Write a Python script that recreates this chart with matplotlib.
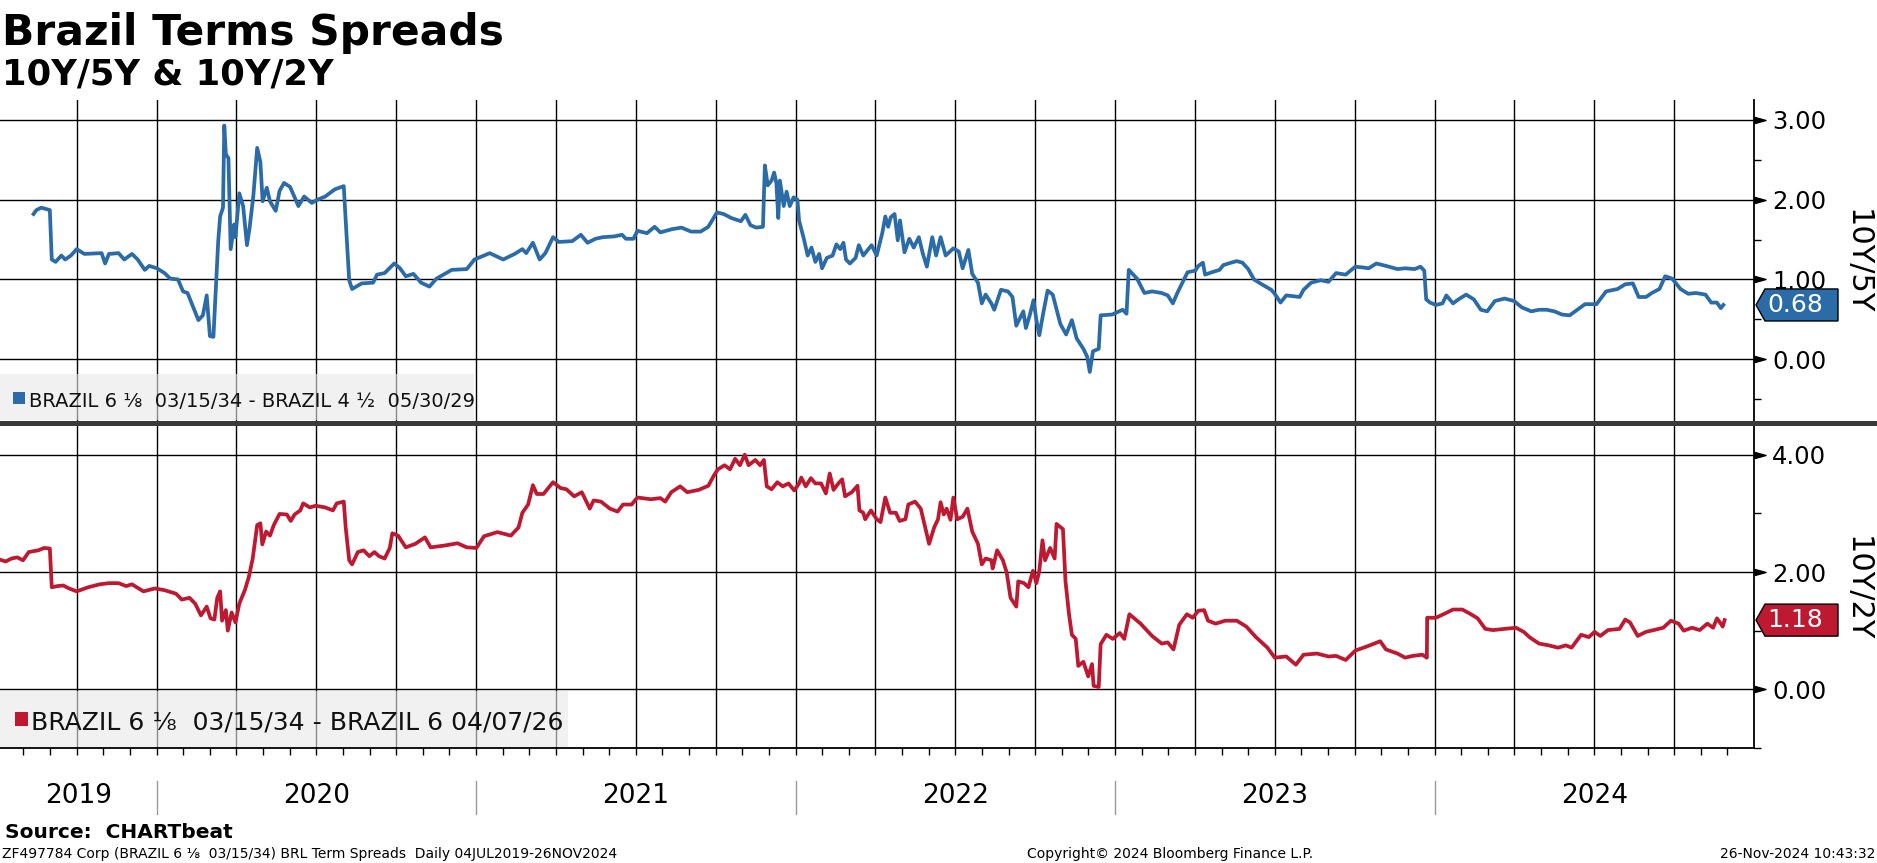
import matplotlib
matplotlib.use("Agg")
import matplotlib.pyplot as plt
import matplotlib.transforms as mtransforms
from matplotlib.patches import Polygon, Rectangle
from matplotlib.lines import Line2D

plt.rcParams['font.family'] = ['DejaVu Sans']

W, H = 1877, 863
BLUE = '#2b6ca8'
RED = '#bf1831'

# 10Y/5Y spread (decimal year, value)
blue_t = [2019.615, 2019.624, 2019.639, 2019.666, 2019.672, 2019.684, 2019.702, 2019.714, 2019.732, 2019.750,
          2019.774, 2019.828, 2019.839, 2019.851, 2019.881, 2019.899, 2019.923, 2019.941, 2019.963, 2019.977,
          2020.001, 2020.025, 2020.043, 2020.067, 2020.083, 2020.097, 2020.115, 2020.131, 2020.145, 2020.157,
          2020.167, 2020.178, 2020.183, 2020.193, 2020.199, 2020.208, 2020.212, 2020.217, 2020.225, 2020.232,
          2020.243, 2020.247, 2020.259, 2020.271, 2020.283, 2020.291, 2020.303, 2020.315, 2020.325, 2020.332,
          2020.345, 2020.355, 2020.373, 2020.385, 2020.399, 2020.418, 2020.430, 2020.444, 2020.462, 2020.486,
          2020.504, 2020.528, 2020.558, 2020.586, 2020.592, 2020.603, 2020.612, 2020.642, 2020.678, 2020.690,
          2020.714, 2020.744, 2020.762, 2020.780, 2020.804, 2020.828, 2020.854, 2020.876, 2020.924, 2020.971,
          2020.995, 2021.043, 2021.085, 2021.121, 2021.145, 2021.157, 2021.178, 2021.199, 2021.217, 2021.241,
          2021.259, 2021.301, 2021.328, 2021.349, 2021.374, 2021.397, 2021.433, 2021.457, 2021.469, 2021.493,
          2021.505, 2021.535, 2021.559, 2021.577, 2021.613, 2021.643, 2021.673, 2021.703, 2021.727, 2021.739,
          2021.754, 2021.775, 2021.799, 2021.829, 2021.843, 2021.859, 2021.877, 2021.898, 2021.904, 2021.913,
          2021.925, 2021.933, 2021.940, 2021.946, 2021.951, 2021.963, 2021.972, 2021.982, 2021.994, 2022.006,
          2022.011, 2022.026, 2022.038, 2022.050, 2022.062, 2022.074, 2022.083, 2022.098, 2022.116, 2022.128,
          2022.140, 2022.150, 2022.158, 2022.170, 2022.188, 2022.198, 2022.212, 2022.238, 2022.254, 2022.272,
          2022.281, 2022.290, 2022.298, 2022.310, 2022.320, 2022.327, 2022.341, 2022.356, 2022.370, 2022.386,
          2022.398, 2022.411, 2022.428, 2022.440, 2022.454, 2022.470, 2022.494, 2022.511, 2022.523, 2022.541,
          2022.553, 2022.571, 2022.583, 2022.595, 2022.613, 2022.622, 2022.643, 2022.665, 2022.679, 2022.691,
          2022.703, 2022.713, 2022.721, 2022.733, 2022.745, 2022.754, 2022.763, 2022.775, 2022.789, 2022.805,
          2022.829, 2022.847, 2022.865, 2022.880, 2022.901, 2022.913, 2022.921, 2022.931, 2022.949, 2022.955,
          2022.991, 2023.024, 2023.036, 2023.043, 2023.069, 2023.092, 2023.116, 2023.146, 2023.165, 2023.181,
          2023.195, 2023.211, 2023.227, 2023.251, 2023.261, 2023.275, 2023.282, 2023.303, 2023.327, 2023.339,
          2023.363, 2023.381, 2023.399, 2023.417, 2023.435, 2023.459, 2023.489, 2023.500, 2023.518, 2023.536,
          2023.578, 2023.590, 2023.614, 2023.644, 2023.668, 2023.692, 2023.722, 2023.752, 2023.776, 2023.794,
          2023.818, 2023.848, 2023.884, 2023.908, 2023.938, 2023.956, 2023.968, 2023.974, 2023.986, 2024.004,
          2024.025, 2024.037, 2024.058, 2024.075, 2024.099, 2024.123, 2024.145, 2024.165, 2024.189, 2024.219,
          2024.249, 2024.273, 2024.303, 2024.327, 2024.351, 2024.375, 2024.399, 2024.423, 2024.447, 2024.471,
          2024.495, 2024.507, 2024.537, 2024.573, 2024.597, 2024.621, 2024.639, 2024.662, 2024.680, 2024.704,
          2024.722, 2024.744, 2024.770, 2024.794, 2024.818, 2024.848, 2024.866, 2024.884, 2024.896, 2024.904]
blue_v = [1.82, 1.87, 1.90, 1.87, 1.25, 1.22, 1.30, 1.25, 1.30, 1.38,
          1.32, 1.33, 1.20, 1.32, 1.33, 1.25, 1.32, 1.25, 1.12, 1.17,
          1.14, 1.08, 1.01, 1.00, 0.85, 0.83, 0.65, 0.49, 0.55, 0.80,
          0.29, 0.28, 0.68, 1.48, 1.79, 1.90, 2.93, 2.57, 2.52, 1.38,
          1.69, 1.53, 2.08, 1.92, 1.43, 1.64, 2.05, 2.65, 2.47, 1.98,
          2.15, 1.98, 1.86, 2.11, 2.21, 2.16, 2.05, 1.92, 2.04, 1.96,
          2.00, 2.04, 2.13, 2.17, 1.74, 0.99, 0.88, 0.95, 0.96, 1.06,
          1.08, 1.20, 1.14, 1.04, 1.07, 0.96, 0.91, 1.01, 1.12, 1.13,
          1.25, 1.33, 1.25, 1.32, 1.38, 1.33, 1.46, 1.25, 1.33, 1.53,
          1.47, 1.48, 1.56, 1.46, 1.51, 1.53, 1.54, 1.56, 1.51, 1.51,
          1.61, 1.58, 1.66, 1.59, 1.63, 1.65, 1.60, 1.60, 1.66, 1.74,
          1.84, 1.82, 1.77, 1.73, 1.81, 1.68, 1.65, 1.66, 2.43, 2.18,
          2.24, 2.34, 2.21, 1.77, 2.24, 1.92, 2.10, 1.92, 2.03, 2.00,
          1.74, 1.51, 1.30, 1.40, 1.22, 1.32, 1.14, 1.27, 1.30, 1.44,
          1.38, 1.46, 1.25, 1.20, 1.27, 1.43, 1.30, 1.43, 1.30, 1.59,
          1.79, 1.66, 1.78, 1.82, 1.49, 1.74, 1.34, 1.51, 1.40, 1.53,
          1.33, 1.16, 1.53, 1.30, 1.53, 1.30, 1.39, 1.35, 1.14, 1.37,
          1.07, 0.96, 0.70, 0.81, 0.70, 0.62, 0.87, 0.85, 0.78, 0.42,
          0.52, 0.60, 0.39, 0.55, 0.74, 0.49, 0.30, 0.57, 0.86, 0.81,
          0.44, 0.31, 0.49, 0.26, 0.13, 0.03, -0.16, 0.10, 0.13, 0.55,
          0.56, 0.62, 0.57, 1.12, 1.01, 0.83, 0.85, 0.83, 0.80, 0.70,
          0.83, 0.96, 1.09, 1.11, 1.17, 1.21, 1.06, 1.09, 1.12, 1.18,
          1.21, 1.23, 1.21, 1.13, 1.00, 0.94, 0.87, 0.82, 0.71, 0.80,
          0.78, 0.87, 0.96, 0.99, 0.97, 1.08, 1.06, 1.16, 1.15, 1.14,
          1.20, 1.17, 1.13, 1.14, 1.13, 1.16, 1.11, 0.75, 0.71, 0.68,
          0.70, 0.80, 0.70, 0.75, 0.81, 0.75, 0.62, 0.60, 0.73, 0.76,
          0.73, 0.65, 0.60, 0.62, 0.62, 0.60, 0.56, 0.55, 0.62, 0.69,
          0.69, 0.69, 0.85, 0.88, 0.94, 0.95, 0.78, 0.78, 0.83, 0.88,
          1.04, 1.01, 0.88, 0.82, 0.83, 0.81, 0.71, 0.71, 0.64, 0.68]

# 10Y/2Y spread (decimal year, value)
red_t = [2019.510, 2019.528, 2019.546, 2019.564, 2019.582, 2019.600, 2019.630, 2019.648, 2019.666, 2019.672,
         2019.690, 2019.708, 2019.726, 2019.750, 2019.786, 2019.822, 2019.851, 2019.881, 2019.905, 2019.923,
         2019.959, 2019.995, 2020.025, 2020.061, 2020.079, 2020.103, 2020.121, 2020.139, 2020.157, 2020.169,
         2020.181, 2020.190, 2020.199, 2020.205, 2020.217, 2020.223, 2020.235, 2020.247, 2020.259, 2020.277,
         2020.289, 2020.301, 2020.315, 2020.325, 2020.331, 2020.343, 2020.355, 2020.367, 2020.385, 2020.408,
         2020.420, 2020.432, 2020.450, 2020.459, 2020.480, 2020.498, 2020.528, 2020.552, 2020.564, 2020.586,
         2020.592, 2020.603, 2020.612, 2020.630, 2020.648, 2020.666, 2020.682, 2020.696, 2020.714, 2020.730,
         2020.738, 2020.756, 2020.780, 2020.810, 2020.840, 2020.858, 2020.900, 2020.942, 2020.971, 2021.001,
         2021.025, 2021.067, 2021.109, 2021.133, 2021.145, 2021.163, 2021.178, 2021.190, 2021.211, 2021.241,
         2021.265, 2021.283, 2021.307, 2021.331, 2021.356, 2021.368, 2021.391, 2021.419, 2021.443, 2021.460,
         2021.487, 2021.505, 2021.547, 2021.577, 2021.592, 2021.611, 2021.639, 2021.661, 2021.697, 2021.727,
         2021.745, 2021.757, 2021.778, 2021.795, 2021.811, 2021.826, 2021.841, 2021.853, 2021.874, 2021.889,
         2021.901, 2021.910, 2021.925, 2021.943, 2021.960, 2021.978, 2021.996, 2022.011, 2022.018, 2022.032,
         2022.048, 2022.062, 2022.080, 2022.095, 2022.107, 2022.119, 2022.134, 2022.146, 2022.155, 2022.176,
         2022.194, 2022.200, 2022.212, 2022.218, 2022.236, 2022.254, 2022.266, 2022.281, 2022.296, 2022.314,
         2022.326, 2022.344, 2022.353, 2022.374, 2022.392, 2022.410, 2022.418, 2022.434, 2022.446, 2022.454,
         2022.464, 2022.473, 2022.485, 2022.494, 2022.506, 2022.523, 2022.538, 2022.553, 2022.571, 2022.583,
         2022.595, 2022.613, 2022.617, 2022.631, 2022.649, 2022.661, 2022.673, 2022.691, 2022.697, 2022.715,
         2022.729, 2022.743, 2022.754, 2022.763, 2022.773, 2022.781, 2022.797, 2022.811, 2022.817, 2022.837,
         2022.845, 2022.856, 2022.865, 2022.877, 2022.885, 2022.901, 2022.916, 2022.928, 2022.933, 2022.949,
         2022.955, 2022.973, 2022.993, 2023.015, 2023.029, 2023.045, 2023.080, 2023.116, 2023.146, 2023.165,
         2023.183, 2023.201, 2023.225, 2023.243, 2023.261, 2023.279, 2023.291, 2023.315, 2023.345, 2023.381,
         2023.411, 2023.441, 2023.477, 2023.500, 2023.536, 2023.566, 2023.590, 2023.632, 2023.668, 2023.692,
         2023.722, 2023.752, 2023.788, 2023.830, 2023.848, 2023.884, 2023.908, 2023.932, 2023.962, 2023.976,
         2023.977, 2024.004, 2024.028, 2024.058, 2024.087, 2024.111, 2024.135, 2024.159, 2024.183, 2024.219,
         2024.255, 2024.279, 2024.297, 2024.327, 2024.357, 2024.387, 2024.411, 2024.429, 2024.459, 2024.483,
         2024.501, 2024.519, 2024.543, 2024.579, 2024.597, 2024.612, 2024.636, 2024.662, 2024.686, 2024.716,
         2024.740, 2024.764, 2024.780, 2024.806, 2024.830, 2024.854, 2024.872, 2024.884, 2024.896, 2024.902,
         2024.908]
red_v = [2.21, 2.18, 2.23, 2.25, 2.20, 2.34, 2.37, 2.41, 2.40, 1.74,
         1.76, 1.77, 1.72, 1.67, 1.74, 1.79, 1.81, 1.81, 1.76, 1.79,
         1.67, 1.72, 1.69, 1.63, 1.53, 1.56, 1.46, 1.26, 1.41, 1.21,
         1.19, 1.56, 1.67, 1.17, 1.35, 1.00, 1.31, 1.14, 1.46, 1.70,
         1.92, 2.23, 2.80, 2.83, 2.47, 2.69, 2.62, 2.80, 2.99, 2.98,
         2.87, 2.98, 3.05, 3.17, 3.10, 3.13, 3.10, 3.05, 3.17, 3.20,
         2.76, 2.20, 2.13, 2.34, 2.37, 2.27, 2.34, 2.27, 2.23, 2.41,
         2.66, 2.62, 2.42, 2.48, 2.59, 2.42, 2.45, 2.49, 2.42, 2.41,
         2.61, 2.68, 2.62, 2.76, 3.01, 3.15, 3.48, 3.33, 3.33, 3.53,
         3.43, 3.41, 3.29, 3.36, 3.08, 3.22, 3.20, 3.08, 3.03, 3.15,
         3.15, 3.27, 3.24, 3.26, 3.20, 3.36, 3.46, 3.36, 3.40, 3.47,
         3.65, 3.75, 3.82, 3.75, 3.93, 3.82, 4.00, 3.82, 3.91, 3.82,
         3.91, 3.46, 3.41, 3.53, 3.46, 3.51, 3.39, 3.51, 3.61, 3.46,
         3.60, 3.51, 3.51, 3.34, 3.68, 3.40, 3.51, 3.58, 3.29, 3.36,
         3.47, 3.05, 3.01, 2.90, 3.05, 2.90, 2.85, 3.27, 3.01, 3.01,
         2.87, 2.90, 3.15, 3.20, 3.08, 2.66, 2.48, 2.76, 2.90, 3.19,
         2.98, 3.08, 2.89, 3.27, 2.90, 2.94, 3.08, 2.69, 2.48, 2.13,
         2.23, 2.20, 2.06, 2.37, 2.20, 1.99, 1.56, 1.41, 1.84, 1.81,
         1.74, 2.02, 1.81, 2.02, 2.54, 2.20, 2.41, 2.23, 2.82, 2.73,
         1.84, 1.28, 0.93, 0.86, 0.40, 0.47, 0.22, 0.43, 0.06, 0.04,
         0.77, 0.93, 0.86, 0.96, 0.86, 1.28, 1.12, 0.91, 0.78, 0.80,
         0.68, 1.10, 1.28, 1.22, 1.34, 1.35, 1.17, 1.12, 1.17, 1.17,
         1.07, 0.89, 0.71, 0.54, 0.56, 0.42, 0.59, 0.61, 0.56, 0.57,
         0.50, 0.66, 0.73, 0.82, 0.68, 0.61, 0.54, 0.57, 0.59, 0.54,
         1.22, 1.22, 1.28, 1.36, 1.36, 1.29, 1.21, 1.03, 1.01, 1.03,
         1.05, 0.98, 0.89, 0.78, 0.75, 0.71, 0.75, 0.71, 0.93, 0.89,
         0.98, 0.91, 1.01, 1.03, 1.19, 1.14, 0.91, 0.98, 1.01, 1.05,
         1.17, 1.12, 1.00, 1.05, 1.01, 1.12, 1.05, 1.21, 1.12, 1.07,
         1.18]

years = [2019, 2020, 2021, 2022, 2023, 2024]
x_start, x_end = 2019.51, 2025.0
top_ticks = [0, 1, 2, 3]
top_minor = [-0.5, 0.5, 1.5, 2.5]
bot_ticks = [0, 2, 4]
bot_minor = [-1, 1, 3]

fig = plt.figure(figsize=(W / 100, H / 100), dpi=100)


def fx(x):
    return x / W


def fy(y):
    return 1 - y / H


ax1 = fig.add_axes([0, fy(423), fx(1754), 323 / H])
ax2 = fig.add_axes([0, fy(748), fx(1754), 325 / H])

quarters = [y + q / 4 for y in range(2019, 2025) for q in range(4) if x_start < y + q / 4 < x_end]
months = [y + m / 12 for y in range(2019, 2025) for m in range(12) if x_start < y + m / 12 < x_end]

tri = [(-1, -0.55), (1, 0), (-1, 0.55), (-1, -0.55)]

for ax, ticks, minor, lim in [(ax1, top_ticks, top_minor, (-0.8, 3.25)),
                              (ax2, bot_ticks, bot_minor, (-1.0, 4.54))]:
    ax.set_xlim(x_start, x_end)
    ax.set_ylim(*lim)
    for s in ['left', 'top', 'bottom']:
        ax.spines[s].set_visible(False)
    ax.spines['right'].set_linewidth(1.3)
    ax.set_xticks(quarters)
    ax.tick_params(axis='x', length=0, labelbottom=False)
    ax.yaxis.tick_right()
    ax.set_yticks(ticks)
    ax.set_yticklabels([f'{t:.2f}' for t in ticks])
    ax.set_yticks(minor, minor=True)
    ax.tick_params(axis='y', which='major', length=0, pad=13, labelsize=17.5)
    ax.tick_params(axis='y', which='minor', length=5, width=1, direction='out')
    ax.grid(True, which='major', color='black', lw=1.0)
    ax.set_axisbelow(True)
    tri_trans = ax.get_yaxis_transform() + mtransforms.ScaledTranslation(0.055, 0, fig.dpi_scale_trans)
    ax.plot([1.0] * len(ticks), ticks, ls='none', marker=tri, ms=8, color='black',
            transform=tri_trans, clip_on=False)

ax2.spines['bottom'].set_visible(True)
ax2.spines['bottom'].set_linewidth(1.3)
ax2.set_xticks(months, minor=True)
ax2.tick_params(axis='x', which='both', length=5, width=1, direction='out')

ax1.plot(blue_t, blue_v, color=BLUE, lw=2.7, zorder=3)
ax2.plot(red_t, red_v, color=RED, lw=2.7, zorder=3)


# last-value tags on the right axis
def tag(ax, val, color):
    trans = fig.dpi_scale_trans + mtransforms.ScaledTranslation(1.0, val, ax.get_yaxis_transform())
    poly = Polygon([(0.02, 0), (0.11, 0.16), (0.84, 0.16), (0.84, -0.16), (0.11, -0.16)],
                   closed=True, facecolor=color, edgecolor='black', lw=1, transform=trans)
    fig.add_artist(poly)
    fig.text(0.41, 0, f'{val:.2f}', transform=trans, ha='center', va='center',
             color='white', fontsize=18)


tag(ax1, blue_v[-1], BLUE)
tag(ax2, red_v[-1], RED)

fig.text(fx(1857), fy(262), '10Y/5Y', rotation=270, ha='center', va='center', fontsize=22)
fig.text(fx(1857), fy(589), '10Y/2Y', rotation=270, ha='center', va='center', fontsize=22)

# separator between panels
fig.add_artist(Line2D([0, 1], [fy(423), fy(423)], color='#3a3a3a', lw=3.6))

# legends
fig.add_artist(Rectangle((0, fy(420)), fx(474), 45.5 / H, facecolor='#e8e8e8', alpha=0.6,
                         edgecolor='none'))
fig.add_artist(Rectangle((fx(13), fy(404.5)), fx(12), 12 / H, facecolor=BLUE, edgecolor='none'))
fig.text(fx(29), fy(406.8), 'BRAZIL 6 ⅛  03/15/34 - BRAZIL 4 ½  05/30/29', fontsize=14,
         va='baseline', color='#111111')

fig.add_artist(Rectangle((0, fy(747)), fx(568), 56 / H, facecolor='#e8e8e8', alpha=0.6,
                         edgecolor='none'))
fig.add_artist(Rectangle((fx(14.5), fy(726)), fx(13), 14 / H, facecolor=RED, edgecolor='none'))
fig.text(fx(31), fy(729.4), 'BRAZIL 6 ⅛  03/15/34 - BRAZIL 6 04/07/26', fontsize=18,
         va='baseline', color='#111111')

# year labels under the bottom panel
ytrans = mtransforms.blended_transform_factory(ax2.transData, fig.transFigure)
for y in years:
    c = (max(y, x_start) + min(y + 1, x_end)) / 2
    ax2.text(c, fy(796), str(y), transform=ytrans, ha='center', va='center',
             fontsize=19, clip_on=False)
for y in years[1:]:
    ax2.add_line(Line2D([y, y], [fy(781), fy(814)], transform=ytrans, color='#9a9a9a',
                        lw=1, clip_on=False))

# titles and footer
fig.text(fx(2), fy(45), 'Brazil Terms Spreads', fontsize=30.5, fontweight='bold', va='baseline')
fig.text(fx(2), fy(85), '10Y/5Y & 10Y/2Y', fontsize=25.5, fontweight='bold', va='baseline')
fig.text(fx(5), fy(838), 'Source:  CHARTbeat', fontsize=14.5, fontweight='bold', va='baseline')
fig.text(fx(2), fy(858), 'ZF497784 Corp (BRAZIL 6 ⅛  03/15/34) BRL Term Spreads  Daily 04JUL2019-26NOV2024',
         fontsize=10, va='baseline')
fig.text(fx(1170), fy(858), 'Copyright© 2024 Bloomberg Finance L.P.', fontsize=10,
         va='baseline', ha='center')
fig.text(fx(1875), fy(858), '26-Nov-2024 10:43:32', fontsize=10,
         va='baseline', ha='right')

fig.savefig('out.png', dpi=100)
